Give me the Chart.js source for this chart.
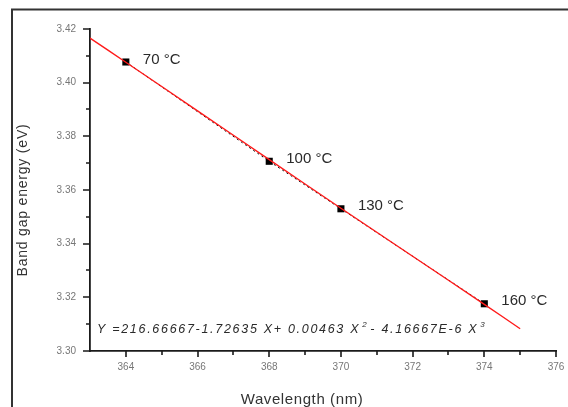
<!DOCTYPE html>
<html>
<head>
<meta charset="utf-8">
<script src="https://cdn.jsdelivr.net/npm/chart.js@4"></script>
<style>
html,body{margin:0;padding:0;background:#fff;}
#wrap{width:568px;height:407px;position:relative;}
</style>
</head>
<body>
<div id="wrap"><canvas id="c" width="568" height="407"></canvas></div>
<script>
// ---- data ----
const wavelengths = [364, 368, 370, 374];
const bandGap = [3.4077, 3.3707, 3.3530, 3.3176];
const tempLabels = ['70 °C', '100 °C', '130 °C', '160 °C'];
const fitX = [363, 364, 366, 368, 370, 372, 374, 375];
const fitY = [3.4166, 3.4076, 3.3895, 3.3713, 3.3532, 3.3353, 3.3174, 3.3083];
const xTicks = [364, 366, 368, 370, 372, 374, 376];
const xMinor = [365, 367, 369, 371, 373, 375];
const yTicks = [3.30, 3.32, 3.34, 3.36, 3.38, 3.40, 3.42];
const yMinor = [3.31, 3.33, 3.35, 3.37, 3.39, 3.41];
const equationParts = [
  {t: 'Y =216.66667-1.72635 X+ 0.00463 X'}, {t: '2', sup: true},
  {t: '- 4.16667E-6 X'}, {t: '3', sup: true}
];
const xTitle = 'Wavelength (nm)';
const yTitle = 'Band gap energy (eV)';

const axisColor = '#1a1a1a';

const decorPlugin = {
  id: 'decor',
  beforeDraw(chart) {
    const ctx = chart.ctx;
    ctx.save();
    ctx.fillStyle = '#fff';
    ctx.fillRect(0, 0, chart.width, chart.height);
    // outer frame
    ctx.strokeStyle = '#333';
    ctx.lineWidth = 2;
    ctx.beginPath();
    ctx.moveTo(12, chart.height);
    ctx.lineTo(12, 9.5);
    ctx.lineTo(chart.width, 9.5);
    ctx.stroke();
    ctx.restore();
  },
  afterDraw(chart) {
    const ctx = chart.ctx;
    const xs = chart.scales.x, ys = chart.scales.y;
    const area = chart.chartArea;
    ctx.save();
    // ticks
    ctx.strokeStyle = axisColor;
    ctx.lineWidth = 1.6;
    ctx.beginPath();
    xTicks.forEach(v => { const p = Math.round(xs.getPixelForValue(v)); ctx.moveTo(p, area.bottom); ctx.lineTo(p, area.bottom + 6); });
    xMinor.forEach(v => { const p = Math.round(xs.getPixelForValue(v)); ctx.moveTo(p, area.bottom); ctx.lineTo(p, area.bottom + 4); });
    yTicks.forEach(v => { const p = Math.round(ys.getPixelForValue(v)); ctx.moveTo(area.left, p); ctx.lineTo(area.left - 7, p); });
    yMinor.forEach(v => { const p = Math.round(ys.getPixelForValue(v)); ctx.moveTo(area.left, p); ctx.lineTo(area.left - 4, p); });
    ctx.stroke();

    // point labels
    ctx.fillStyle = '#2a2a2a';
    ctx.font = '15px Arial, "Liberation Sans", sans-serif';
    ctx.textBaseline = 'middle';
    ctx.textAlign = 'left';
    wavelengths.forEach((w, i) => {
      const px = xs.getPixelForValue(w), py = ys.getPixelForValue(bandGap[i]);
      ctx.fillText(tempLabels[i], px + 17, py - 2.5);
    });

    // equation
    const eqFont = 'italic 12.5px Arial, "Liberation Sans", sans-serif';
    const supFont = 'italic 8px Arial, "Liberation Sans", sans-serif';
    ctx.textBaseline = 'alphabetic';
    ctx.letterSpacing = '1.7px';
    let x = area.left + 7;
    const base = ys.getPixelForValue(3.3) - 18;
    equationParts.forEach(part => {
      ctx.font = part.sup ? supFont : eqFont;
      const yy = part.sup ? base - 6 : base;
      ctx.fillText(part.t, x + (part.sup ? 2 : 0), yy);
      x += ctx.measureText(part.t).width + (part.sup ? 4 : 0);
    });

    // axis titles
    ctx.fillStyle = '#333';
    ctx.font = '15px Arial, "Liberation Sans", sans-serif';
    ctx.letterSpacing = '0.6px';
    ctx.textAlign = 'center';
    ctx.textBaseline = 'alphabetic';
    ctx.fillText(xTitle, 302, 404);
    ctx.save();
    ctx.translate(27, 200);
    ctx.rotate(-Math.PI / 2);
    ctx.font = '14px Arial, "Liberation Sans", sans-serif';
    ctx.letterSpacing = '0.8px';
    ctx.fillText(yTitle, 0, 0);
    ctx.restore();
    ctx.restore();
  }
};

new Chart(document.getElementById('c'), {
  type: 'scatter',
  data: {
    datasets: [
      {
        label: 'fit',
        data: fitX.map((x, i) => ({x: x, y: fitY[i]})),
        showLine: true,
        borderColor: '#ff1a1a',
        borderWidth: 1.4,
        pointRadius: 0,
        tension: 0.3,
        fill: false
      },
      {
        label: 'band gap',
        data: wavelengths.map((x, i) => ({x: x, y: bandGap[i]})),
        showLine: true,
        borderColor: '#000',
        borderWidth: 1,
        borderDash: [2, 3],
        pointStyle: 'rect',
        pointRadius: 5,
        pointBackgroundColor: '#000',
        pointBorderColor: '#000',
        pointBorderWidth: 0
      }
    ]
  },
  plugins: [decorPlugin],
  options: {
    responsive: false,
    animation: false,
    devicePixelRatio: 1,
    layout: {padding: {top: 29, right: 12, left: 0, bottom: 0}},
    plugins: {legend: {display: false}, tooltip: {enabled: false}},
    scales: {
      x: {
        type: 'linear',
        min: 363, max: 376,
        afterBuildTicks: s => { s.ticks = xTicks.map(v => ({value: v})); },
        afterFit: s => { s.height = 56; s.paddingRight = 0; s.paddingLeft = 0; },
        grid: {display: false, drawTicks: false},
        border: {display: true, color: axisColor, width: 1.8},
        ticks: {color: '#777', font: {size: 10, family: 'Arial, "Liberation Sans", sans-serif'}, padding: 10, maxRotation: 0, autoSkip: false, callback: v => String(v)}
      },
      y: {
        type: 'linear',
        min: 3.30, max: 3.42,
        afterBuildTicks: s => { s.ticks = yTicks.map(v => ({value: v})); },
        afterFit: s => { s.width = 90; s.paddingTop = 0; s.paddingBottom = 0; },
        grid: {display: false, drawTicks: false},
        border: {display: true, color: axisColor, width: 1.8},
        ticks: {color: '#777', font: {size: 10, family: 'Arial, "Liberation Sans", sans-serif'}, padding: 14, autoSkip: false, callback: v => v.toFixed(2)}
      }
    }
  }
});
</script>
</body>
</html>
